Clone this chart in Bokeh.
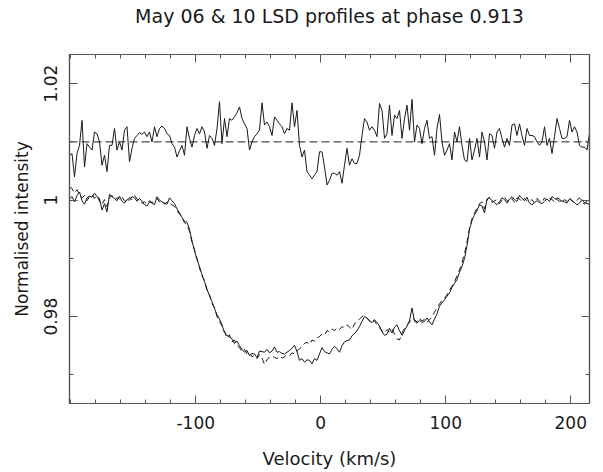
from bokeh.plotting import figure
from bokeh.models import Range1d, LinearAxis, FixedTicker
from bokeh.embed import file_html
from bokeh.resources import INLINE

TITLE = "May 06 & 10 LSD profiles at phase 0.913"
X_LABEL = "Velocity (km/s)"
Y_LABEL = "Normalised intensity"

X_MAJOR = [-100, 0, 100, 200]
X_MINOR = [-200, -180, -160, -140, -120, -100, -80, -60, -40, -20, 0, 20, 40, 60, 80,
           100, 120, 140, 160, 180, 200]
X_LABELS = {-100: "-100", 0: "0", 100: "100", 200: "200"}
Y_MAJOR = [0.98, 1.0, 1.02]
Y_MINOR = [0.97, 0.98, 0.99, 1.0, 1.01, 1.02]
Y_LABELS = {0.98: "0.98", 1.0: "1", 1.02: "1.02"}
REF_LEVEL = 1.01

VELOCITY = [
    -201, -199, -197, -195, -193, -191, -189, -187, -185, -183,
    -181, -179, -177, -175, -173, -171, -169, -167, -165, -163,
    -161, -159, -157, -155, -153, -151, -149, -147, -145, -143,
    -141, -139, -137, -135, -133, -131, -129, -127, -125, -123,
    -121, -119, -117, -115, -113, -111, -109, -107, -105, -103,
    -101, -99, -97, -95, -93, -91, -89, -87, -85, -83,
    -81, -79, -77, -75, -73, -71, -69, -67, -65, -63,
    -61, -59, -57, -55, -53, -51, -49, -47, -45, -43,
    -41, -39, -37, -35, -33, -31, -29, -27, -25, -23,
    -21, -19, -17, -15, -13, -11, -9, -7, -5, -3,
    -1, 1, 3, 5, 7, 9, 11, 13, 15, 17,
    19, 21, 23, 25, 27, 29, 31, 33, 35, 37,
    39, 41, 43, 45, 47, 49, 51, 53, 55, 57,
    59, 61, 63, 65, 67, 69, 71, 73, 75, 77,
    79, 81, 83, 85, 87, 89, 91, 93, 95, 97,
    99, 101, 103, 105, 107, 109, 111, 113, 115, 117,
    119, 121, 123, 125, 127, 129, 131, 133, 135, 137,
    139, 141, 143, 145, 147, 149, 151, 153, 155, 157,
    159, 161, 163, 165, 167, 169, 171, 173, 175, 177,
    179, 181, 183, 185, 187, 189, 191, 193, 195, 197,
    199, 201, 203, 205, 207, 209, 211, 213, 215,
]

# difference profile (offset to 1.01)
DIFF = [
    1.0077, 1.0080, 1.0040, 1.0080, 1.0094, 1.0137, 1.0057, 1.0097, 1.0091, 1.0086,
    1.0117, 1.0114, 1.0100, 1.0060, 1.0077, 1.0049, 1.0094, 1.0094, 1.0123, 1.0086,
    1.0100, 1.0086, 1.0120, 1.0126, 1.0066, 1.0089, 1.0106, 1.0111, 1.0116, 1.0113,
    1.0117, 1.0109, 1.0117, 1.0100, 1.0126, 1.0109, 1.0123, 1.0127, 1.0123, 1.0114,
    1.0111, 1.0097, 1.0091, 1.0074, 1.0085, 1.0094, 1.0077, 1.0126, 1.0106, 1.0091,
    1.0111, 1.0123, 1.0114, 1.0126, 1.0117, 1.0089, 1.0111, 1.0106, 1.0094, 1.0123,
    1.0169, 1.0097, 1.0140, 1.0109, 1.0140, 1.0137, 1.0143, 1.0150, 1.0160, 1.0140,
    1.0131, 1.0123, 1.0086, 1.0100, 1.0109, 1.0114, 1.0120, 1.0167, 1.0129, 1.0134,
    1.0126, 1.0111, 1.0143, 1.0137, 1.0131, 1.0126, 1.0114, 1.0123, 1.0120, 1.0167,
    1.0126, 1.0154, 1.0094, 1.0074, 1.0086, 1.0049, 1.0043, 1.0037, 1.0043, 1.0049,
    1.0083, 1.0083, 1.0057, 1.0026, 1.0034, 1.0046, 1.0046, 1.0043, 1.0049, 1.0029,
    1.0060, 1.0089, 1.0060, 1.0071, 1.0063, 1.0063, 1.0077, 1.0111, 1.0140, 1.0134,
    1.0120, 1.0126, 1.0120, 1.0109, 1.0166, 1.0154, 1.0106, 1.0114, 1.0163, 1.0111,
    1.0146, 1.0140, 1.0154, 1.0106, 1.0140, 1.0163, 1.0120, 1.0173, 1.0100, 1.0129,
    1.0123, 1.0097, 1.0123, 1.0137, 1.0106, 1.0109, 1.0077, 1.0123, 1.0147, 1.0100,
    1.0077, 1.0086, 1.0097, 1.0069, 1.0117, 1.0100, 1.0126, 1.0094, 1.0069, 1.0066,
    1.0106, 1.0069, 1.0086, 1.0106, 1.0074, 1.0117, 1.0100, 1.0069, 1.0114, 1.0111,
    1.0089, 1.0117, 1.0123, 1.0106, 1.0091, 1.0106, 1.0094, 1.0129, 1.0131, 1.0111,
    1.0131, 1.0111, 1.0094, 1.0123, 1.0111, 1.0111, 1.0109, 1.0100, 1.0094, 1.0100,
    1.0126, 1.0094, 1.0106, 1.0080, 1.0109, 1.0140, 1.0123, 1.0106, 1.0106, 1.0109,
    1.0137, 1.0117, 1.0126, 1.0117, 1.0094, 1.0091, 1.0091, 1.0086, 1.0114,
]

# May 06 profile (solid)
PROFILE_SOLID = [
    1.0002, 1.0006, 0.9997, 1.0008, 1.0014, 0.9999, 0.9993, 1.0004, 1.0007, 1.0005,
    1.0012, 1.0006, 1.0003, 0.9983, 0.9994, 0.9980, 1.0010, 1.0006, 1.0003, 0.9999,
    1.0007, 0.9998, 0.9995, 1.0001, 1.0000, 1.0006, 1.0004, 0.9998, 1.0003, 0.9998,
    0.9992, 0.9990, 0.9997, 0.9995, 0.9992, 1.0006, 1.0000, 0.9997, 0.9995, 0.9993,
    1.0004, 0.9999, 0.9994, 0.9985, 0.9978, 0.9970, 0.9964, 0.9962, 0.9950, 0.9930,
    0.9913, 0.9898, 0.9886, 0.9872, 0.9860, 0.9847, 0.9836, 0.9826, 0.9814, 0.9803,
    0.9796, 0.9786, 0.9772, 0.9768, 0.9765, 0.9762, 0.9754, 0.9758, 0.9750, 0.9744,
    0.9739, 0.9742, 0.9733, 0.9737, 0.9736, 0.9730, 0.9741, 0.9740, 0.9739, 0.9744,
    0.9738, 0.9741, 0.9748, 0.9739, 0.9740, 0.9737, 0.9736, 0.9739, 0.9742, 0.9746,
    0.9751, 0.9740, 0.9725, 0.9728, 0.9722, 0.9726, 0.9725, 0.9719, 0.9728, 0.9725,
    0.9736, 0.9747, 0.9740, 0.9738, 0.9736, 0.9744, 0.9749, 0.9745, 0.9739, 0.9750,
    0.9757, 0.9759, 0.9760, 0.9767, 0.9771, 0.9776, 0.9783, 0.9792, 0.9800, 0.9798,
    0.9792, 0.9790, 0.9795, 0.9790, 0.9784, 0.9774, 0.9768, 0.9770, 0.9780, 0.9772,
    0.9782, 0.9786, 0.9776, 0.9768, 0.9776, 0.9784, 0.9793, 0.9815, 0.9792, 0.9789,
    0.9794, 0.9790, 0.9792, 0.9798, 0.9791, 0.9786, 0.9796, 0.9805, 0.9818, 0.9824,
    0.9829, 0.9835, 0.9841, 0.9850, 0.9857, 0.9864, 0.9876, 0.9886, 0.9900, 0.9922,
    0.9950, 0.9965, 0.9975, 0.9982, 0.9992, 0.9990, 0.9978, 1.0002, 1.0004, 0.9999,
    0.9996, 0.9992, 0.9997, 1.0004, 1.0001, 0.9995, 1.0002, 1.0006, 1.0001, 0.9998,
    1.0008, 1.0003, 0.9999, 1.0005, 0.9995, 0.9992, 0.9996, 0.9999, 0.9996, 0.9994,
    0.9998, 1.0002, 0.9998, 1.0006, 1.0003, 1.0001, 0.9998, 0.9999, 0.9997, 0.9995,
    1.0002, 0.9999, 0.9996, 0.9992, 0.9995, 1.0001, 0.9996, 0.9994, 0.9993,
]

# May 10 profile (dashed)
PROFILE_DASHED = [
    1.0022, 1.0020, 1.0012, 1.0018, 1.0010, 1.0004, 1.0008, 0.9999, 1.0006, 1.0010,
    1.0003, 1.0008, 0.9998, 0.9992, 1.0001, 0.9989, 1.0004, 1.0008, 1.0000, 1.0004,
    1.0002, 1.0006, 0.9999, 0.9997, 1.0005, 1.0001, 1.0008, 1.0002, 0.9999, 0.9995,
    0.9997, 0.9993, 0.9999, 0.9996, 0.9998, 1.0003, 0.9997, 0.9999, 0.9993, 0.9997,
    0.9995, 0.9992, 0.9989, 0.9982, 0.9976, 0.9972, 0.9961, 0.9958, 0.9946, 0.9928,
    0.9915, 0.9900, 0.9884, 0.9870, 0.9862, 0.9845, 0.9838, 0.9822, 0.9816, 0.9800,
    0.9792, 0.9784, 0.9775, 0.9763, 0.9769, 0.9757, 0.9760, 0.9750, 0.9747, 0.9740,
    0.9744, 0.9736, 0.9738, 0.9731, 0.9734, 0.9728, 0.9735, 0.9729, 0.9718, 0.9726,
    0.9731, 0.9733, 0.9730, 0.9728, 0.9732, 0.9729, 0.9731, 0.9735, 0.9733, 0.9738,
    0.9736, 0.9741, 0.9745, 0.9748, 0.9754, 0.9756, 0.9752, 0.9760, 0.9758, 0.9764,
    0.9766, 0.9770, 0.9768, 0.9776, 0.9774, 0.9779, 0.9776, 0.9781, 0.9778, 0.9783,
    0.9781, 0.9786, 0.9782, 0.9778, 0.9788, 0.9791, 0.9796, 0.9800, 0.9803, 0.9797,
    0.9794, 0.9789, 0.9793, 0.9786, 0.9781, 0.9776, 0.9772, 0.9778, 0.9774, 0.9779,
    0.9770, 0.9762, 0.9760, 0.9772, 0.9780, 0.9786, 0.9790, 0.9798, 0.9795, 0.9791,
    0.9797, 0.9793, 0.9795, 0.9790, 0.9795, 0.9800, 0.9808, 0.9815, 0.9822, 0.9828,
    0.9831, 0.9838, 0.9846, 0.9852, 0.9860, 0.9870, 0.9880, 0.9893, 0.9908, 0.9928,
    0.9952, 0.9968, 0.9978, 0.9986, 0.9994, 0.9997, 0.9985, 1.0000, 1.0005, 0.9996,
    0.9999, 1.0001, 0.9994, 1.0000, 1.0005, 0.9999, 0.9997, 1.0003, 0.9996, 1.0004,
    1.0002, 0.9997, 1.0003, 0.9999, 0.9997, 1.0001, 0.9995, 1.0003, 0.9999, 0.9996,
    1.0004, 0.9999, 1.0003, 1.0001, 0.9997, 1.0004, 1.0002, 0.9996, 1.0001, 0.9998,
    1.0004, 0.9999, 0.9995, 1.0000, 1.0004, 0.9997, 0.9993, 0.9999, 1.0003,
]

n = min(len(VELOCITY), len(DIFF), len(PROFILE_SOLID), len(PROFILE_DASHED))

FONT = "DejaVu Sans"
INK = "#1a1a1a"
FRAME = "#555555"

p = figure(width=603, height=472, output_backend="svg", toolbar_location=None,
           x_range=Range1d(-201, 215), y_range=Range1d(0.9651, 1.025),
           min_border_left=69, min_border_right=14, min_border_top=54,
           min_border_bottom=69, x_axis_label=X_LABEL, y_axis_label=Y_LABEL)
p.title = None
p.background_fill_color = "white"
p.border_fill_color = "white"
p.xgrid.visible = False
p.ygrid.visible = False
p.outline_line_color = FRAME
p.outline_line_width = 1.2

xt = FixedTicker(ticks=X_MAJOR, minor_ticks=X_MINOR)
yt = FixedTicker(ticks=Y_MAJOR, minor_ticks=Y_MINOR)


def style_axis(ax, size="17px"):
    ax.major_tick_in = 8
    ax.major_tick_out = 0
    ax.minor_tick_in = 4
    ax.minor_tick_out = 0
    ax.axis_line_color = FRAME
    ax.axis_line_width = 1.2
    ax.major_tick_line_color = FRAME
    ax.minor_tick_line_color = FRAME
    ax.major_label_text_font = FONT
    ax.major_label_text_font_size = size
    ax.major_label_text_color = INK
    ax.axis_label_text_font = FONT
    ax.axis_label_text_font_size = "18px"
    ax.axis_label_text_font_style = "normal"
    ax.axis_label_text_color = INK


xa = p.xaxis[0]
xa.ticker = xt
style_axis(xa)
xa.major_label_overrides = X_LABELS
xa.major_label_standoff = 12
xa.axis_label_standoff = 16

ya = p.yaxis[0]
ya.ticker = yt
style_axis(ya)
ya.axis_label_text_font_size = "17px"
ya.major_label_overrides = Y_LABELS
ya.major_label_orientation = "vertical"
ya.major_label_standoff = 12
ya.axis_label_standoff = 10

# top axis: ticks only, its label carries the chart title
top = LinearAxis(ticker=xt)
right = LinearAxis(ticker=yt)
for ax in (top, right):
    style_axis(ax)
    ax.major_label_text_font_size = "0px"
    ax.major_label_standoff = 0
    ax.axis_label = None
top.axis_label = TITLE
top.axis_label_text_font_size = "19px"
top.axis_label_standoff = 28
p.add_layout(top, "above")
p.add_layout(right, "right")

p.line(VELOCITY[:n], [REF_LEVEL] * n, line_color=INK, line_width=1, line_dash="8 4")
p.line(VELOCITY[:n], DIFF[:n], line_color=INK, line_width=1)
p.line(VELOCITY[:n], PROFILE_SOLID[:n], line_color=INK, line_width=1)
p.line(VELOCITY[:n], PROFILE_DASHED[:n], line_color=INK, line_width=1, line_dash="6 4")

open("out.html", "w").write(file_html(p, INLINE))
